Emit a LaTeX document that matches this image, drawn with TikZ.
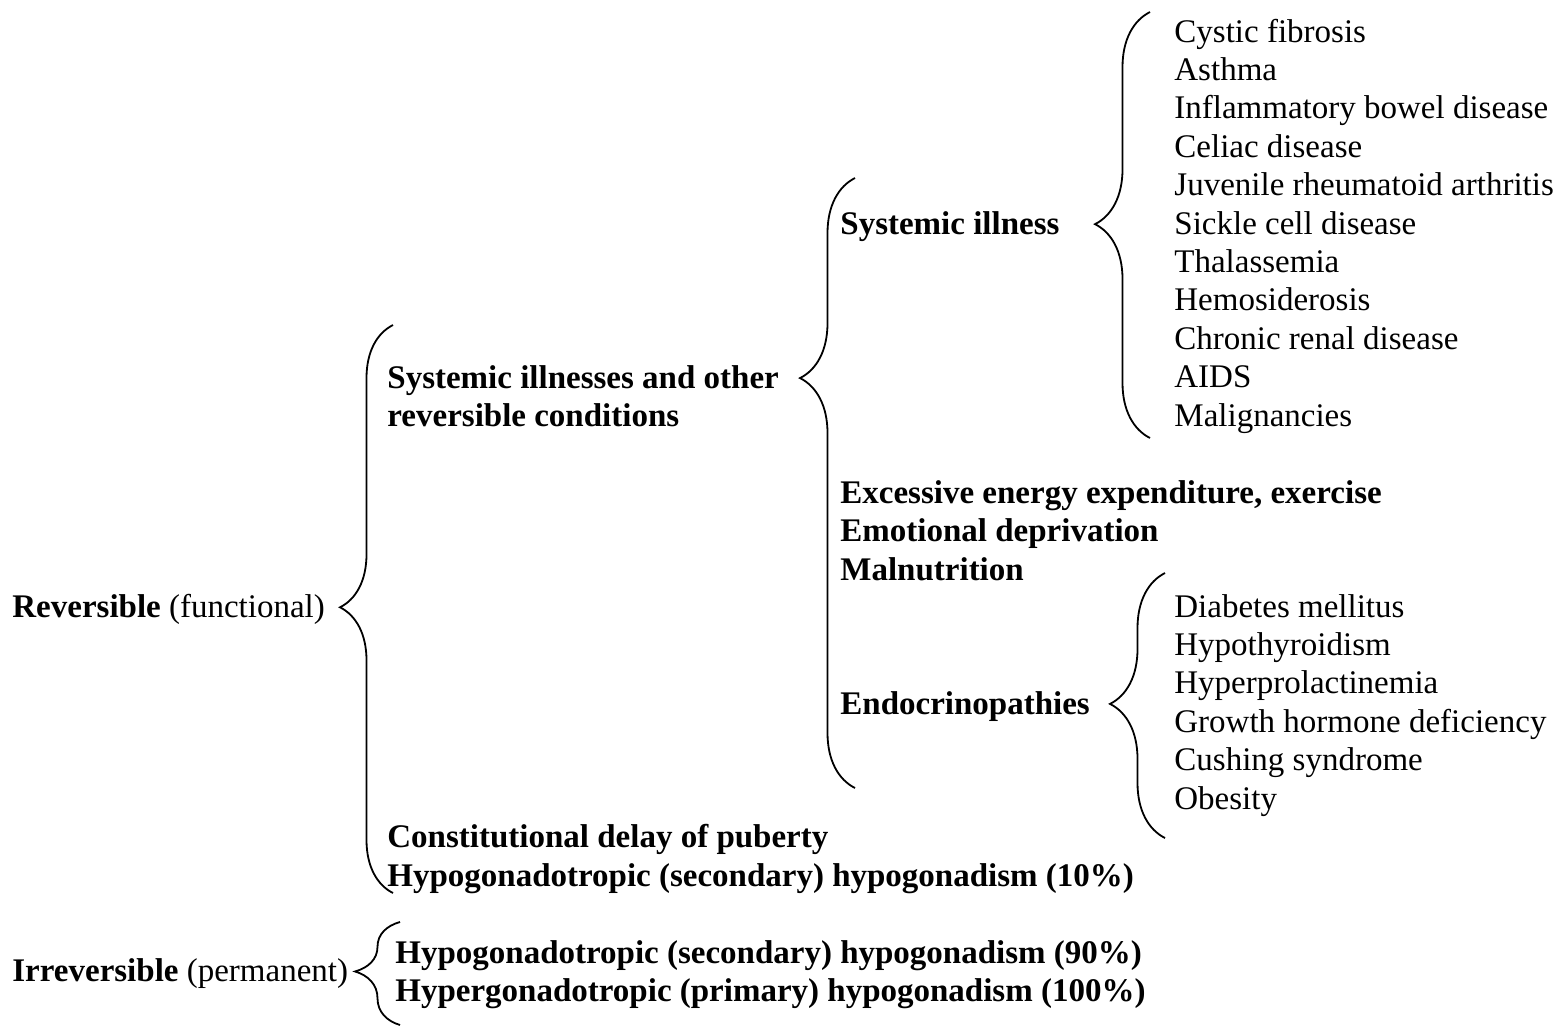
\documentclass[tikz,border=0pt]{standalone}
\usepackage{fontspec}
\setmainfont{Liberation Serif}
\usetikzlibrary{decorations.pathreplacing}
\begin{document}
\begin{tikzpicture}[x=0.5pt,y=-0.5pt,
  txt/.style={anchor=base west,inner sep=0pt,font=\fontsize{16.5}{19.2}\selectfont},
  btxt/.style={txt,font=\fontsize{16.5}{19.2}\selectfont\bfseries},
  curly/.style={draw,line width=0.9pt,decorate}]
\useasboundingbox (0,0) rectangle (1566,1028);
% right list 1
\foreach \t [count=\i] in {Cystic fibrosis,Asthma,Inflammatory bowel disease,Celiac disease,Juvenile rheumatoid arthritis,Sickle cell disease,Thalassemia,Hemosiderosis,Chronic renal disease,AIDS,Malignancies}
  \node[txt] (s\i) at (1174,{42+(\i-1)*38.4}) {\t};
% right list 2
\foreach \t [count=\i] in {Diabetes mellitus,Hypothyroidism,Hyperprolactinemia,Growth hormone deficiency,Cushing syndrome,Obesity}
  \node[txt] (e\i) at (1174,{617+(\i-1)*38.4}) {\t};
% middle column
\node[btxt] (sys) at (840,234) {Systemic illness};
\node[btxt] (exc) at (840,503) {Excessive energy expenditure, exercise};
\node[btxt] (emo) at (840,541) {Emotional deprivation};
\node[btxt] (mal) at (840,580) {Malnutrition};
\node[btxt] (endo) at (840,714) {Endocrinopathies};
% second column
\node[btxt] (sio1) at (387,388) {Systemic illnesses and other};
\node[btxt] (sio2) at (387,426) {reversible conditions};
\node[btxt] (cdp) at (387,847) {Constitutional delay of puberty};
\node[btxt] (hh10) at (387,886) {Hypogonadotropic (secondary) hypogonadism (10\%)};
% left column
\node[txt] (rev) at (12,617) {\textbf{Reversible} (functional)};
\node[txt] (irr) at (12,981) {\textbf{Irreversible} (permanent)};
\node[btxt] (hh90) at (395,963) {Hypogonadotropic (secondary) hypogonadism (90\%)};
\node[btxt] (hp100) at (395,1001) {Hypergonadotropic (primary) hypogonadism (100\%)};
% brace end points
\coordinate (b1b) at (1150,438); \coordinate (b1t) at (1150,12);
\coordinate (b2b) at (855,788);  \coordinate (b2t) at (855,178);
\coordinate (b3b) at (1165,838); \coordinate (b3t) at (1165,573);
\coordinate (b4b) at (393,893);  \coordinate (b4t) at (393,325);
\coordinate (b5b) at (400,1025); \coordinate (b5t) at (400,922);
% braces
\draw[curly,decoration={brace,amplitude=27.5pt,aspect=0.502}] (b1b) -- (b1t);
\draw[curly,decoration={brace,amplitude=27.5pt,aspect=0.672}] (b2b) -- (b2t);
\draw[curly,decoration={brace,amplitude=27.5pt,aspect=0.506}] (b3b) -- (b3t);
\draw[curly,decoration={brace,amplitude=26.5pt,aspect=0.503}] (b4b) -- (b4t);
\draw[curly,decoration={brace,amplitude=22.5pt,aspect=0.52}] (b5b) -- (b5t);
\end{tikzpicture}
\end{document}
